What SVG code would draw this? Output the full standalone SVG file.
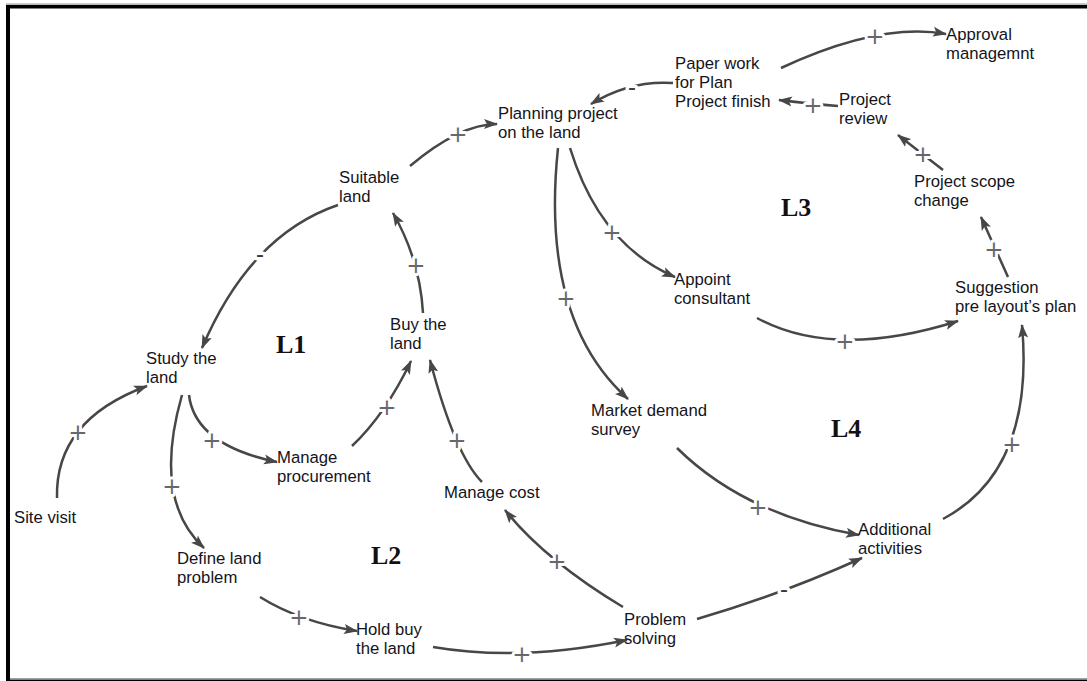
<svg xmlns="http://www.w3.org/2000/svg" width="1087" height="681" viewBox="0 0 1087 681">
<style>
  .lbl { font-family: "Liberation Sans", Arial, sans-serif; font-size: 16.7px; fill: #141420; }
  .loop { font-family: "Liberation Serif", "Times New Roman", serif; font-size: 26px; font-weight: bold; fill: #111; }
  .edge { fill: none; stroke: #474747; stroke-width: 2.5; marker-end: url(#arr); }
  .plus { font-family: "DejaVu Sans", "Liberation Sans", sans-serif; font-size: 23px; font-weight: normal; fill: #66686e; text-anchor: middle; stroke: #fff; stroke-width: 6; stroke-linejoin: round; paint-order: stroke; }
  .minus { font-family: "Liberation Sans", Arial, sans-serif; font-size: 24px; fill: #3a3a3a; text-anchor: middle; stroke: #fff; stroke-width: 7; stroke-linejoin: round; paint-order: stroke; }
</style>
<defs>
  <marker id="arr" markerWidth="15" markerHeight="11" refX="13" refY="5.5" orient="auto" markerUnits="userSpaceOnUse">
    <path d="M0,0.5 L14,5.5 L0,10.5 L3,5.5 z" fill="#474747"/>
  </marker>
</defs>
<rect width="1087" height="681" fill="#fff"/>
<g id="frame">
  <rect x="6" y="3.5" width="1081" height="1.2" fill="#9a9a9a"/>
  <rect x="6" y="5" width="1081" height="3.5" fill="#000"/>
  <rect x="6" y="5" width="4" height="676" fill="#000"/>
  <rect x="10" y="678" width="1077" height="1" fill="#a0a0a0"/>
  <rect x="10" y="679.5" width="1077" height="1.5" fill="#000"/>
</g>
<g id="connectors">
  <path class="edge" d="M781,68 Q880,22 946,34"/>
  <path class="edge" d="M838,106 Q812,104 779,100"/>
  <path class="edge" d="M943,170 L898,135"/>
  <path class="edge" d="M673,83 Q630,80 591,104"/>
  <path class="edge" d="M410,166 Q460,124 497,124"/>
  <path class="edge" d="M338,205 Q250,235 202,348"/>
  <path class="edge" d="M423,313 Q420,260 393,213"/>
  <path class="edge" d="M189,395 Q195,445 277,462"/>
  <path class="edge" d="M182,395 Q152,500 204,548"/>
  <path class="edge" d="M57,498 Q55,420 147,386"/>
  <path class="edge" d="M352,446 Q385,415 411,361"/>
  <path class="edge" d="M482,482 Q455,455 430,360"/>
  <path class="edge" d="M623,607 Q545,560 505,510"/>
  <path class="edge" d="M433,647 Q520,662 627,640"/>
  <path class="edge" d="M260,597 Q300,622 357,631"/>
  <path class="edge" d="M697,619 Q780,595 862,558"/>
  <path class="edge" d="M677,448 Q745,515 859,535"/>
  <path class="edge" d="M943,519 Q1035,470 1022,325"/>
  <path class="edge" d="M570,148 Q600,245 675,277"/>
  <path class="edge" d="M558,148 Q540,320 628,399"/>
  <path class="edge" d="M757,318 Q835,360 958,321"/>
  <path class="edge" d="M1008,277 L981,217"/>
  <text class="plus" x="875" y="44">+</text>
  <text class="plus" x="813" y="113">+</text>
  <text class="plus" x="923" y="162">+</text>
  <text class="minus" x="632" y="95">-</text>
  <text class="plus" x="458" y="142">+</text>
  <text class="minus" x="260" y="262">-</text>
  <text class="plus" x="416" y="273">+</text>
  <text class="plus" x="212" y="448">+</text>
  <text class="plus" x="172" y="494">+</text>
  <text class="plus" x="78" y="440">+</text>
  <text class="plus" x="387" y="415">+</text>
  <text class="plus" x="457" y="448">+</text>
  <text class="plus" x="557" y="569">+</text>
  <text class="plus" x="522" y="662">+</text>
  <text class="plus" x="299" y="625">+</text>
  <text class="minus" x="784" y="597">-</text>
  <text class="plus" x="758" y="515">+</text>
  <text class="plus" x="1012" y="452">+</text>
  <text class="plus" x="612" y="240">+</text>
  <text class="plus" x="566" y="306">+</text>
  <text class="plus" x="845" y="349">+</text>
  <text class="plus" x="994" y="257">+</text>
</g>
<g id="approval"><text class="lbl" x="946" y="40">Approval</text><text class="lbl" x="946" y="59">managemnt</text></g>
<g id="paperwork"><text class="lbl" x="675" y="69">Paper work</text><text class="lbl" x="675" y="88">for Plan</text><text class="lbl" x="675" y="107">Project finish</text></g>
<g id="review"><text class="lbl" x="839" y="105">Project</text><text class="lbl" x="839" y="124">review</text></g>
<g id="planning"><text class="lbl" x="498" y="119">Planning project</text><text class="lbl" x="498" y="138">on the land</text></g>
<g id="suitable"><text class="lbl" x="339" y="183">Suitable</text><text class="lbl" x="339" y="202">land</text></g>
<g id="scope"><text class="lbl" x="914" y="187">Project scope</text><text class="lbl" x="914" y="206">change</text></g>
<g id="appoint"><text class="lbl" x="674" y="285">Appoint</text><text class="lbl" x="674" y="304">consultant</text></g>
<g id="suggestion"><text class="lbl" x="955" y="293">Suggestion</text><text class="lbl" x="955" y="312">pre layout’s plan</text></g>
<g id="buy"><text class="lbl" x="390" y="330">Buy the</text><text class="lbl" x="390" y="349">land</text></g>
<g id="study"><text class="lbl" x="146" y="364">Study the</text><text class="lbl" x="146" y="383">land</text></g>
<g id="market"><text class="lbl" x="591" y="416">Market demand</text><text class="lbl" x="591" y="435">survey</text></g>
<g id="procurement"><text class="lbl" x="277" y="463">Manage</text><text class="lbl" x="277" y="482">procurement</text></g>
<g id="cost"><text class="lbl" x="444" y="498">Manage cost</text></g>
<g id="site"><text class="lbl" x="14" y="523">Site visit</text></g>
<g id="additional"><text class="lbl" x="858" y="535">Additional</text><text class="lbl" x="858" y="554">activities</text></g>
<g id="define"><text class="lbl" x="177" y="564">Define land</text><text class="lbl" x="177" y="583">problem</text></g>
<g id="problem"><text class="lbl" x="624" y="625">Problem</text><text class="lbl" x="624" y="644">solving</text></g>
<g id="hold"><text class="lbl" x="356" y="635">Hold buy</text><text class="lbl" x="356" y="654">the land</text></g>
<g id="loops">
  <text class="loop" x="781" y="216">L3</text>
  <text class="loop" x="276" y="353">L1</text>
  <text class="loop" x="831" y="437">L4</text>
  <text class="loop" x="371" y="564">L2</text>
</g>
</svg>
